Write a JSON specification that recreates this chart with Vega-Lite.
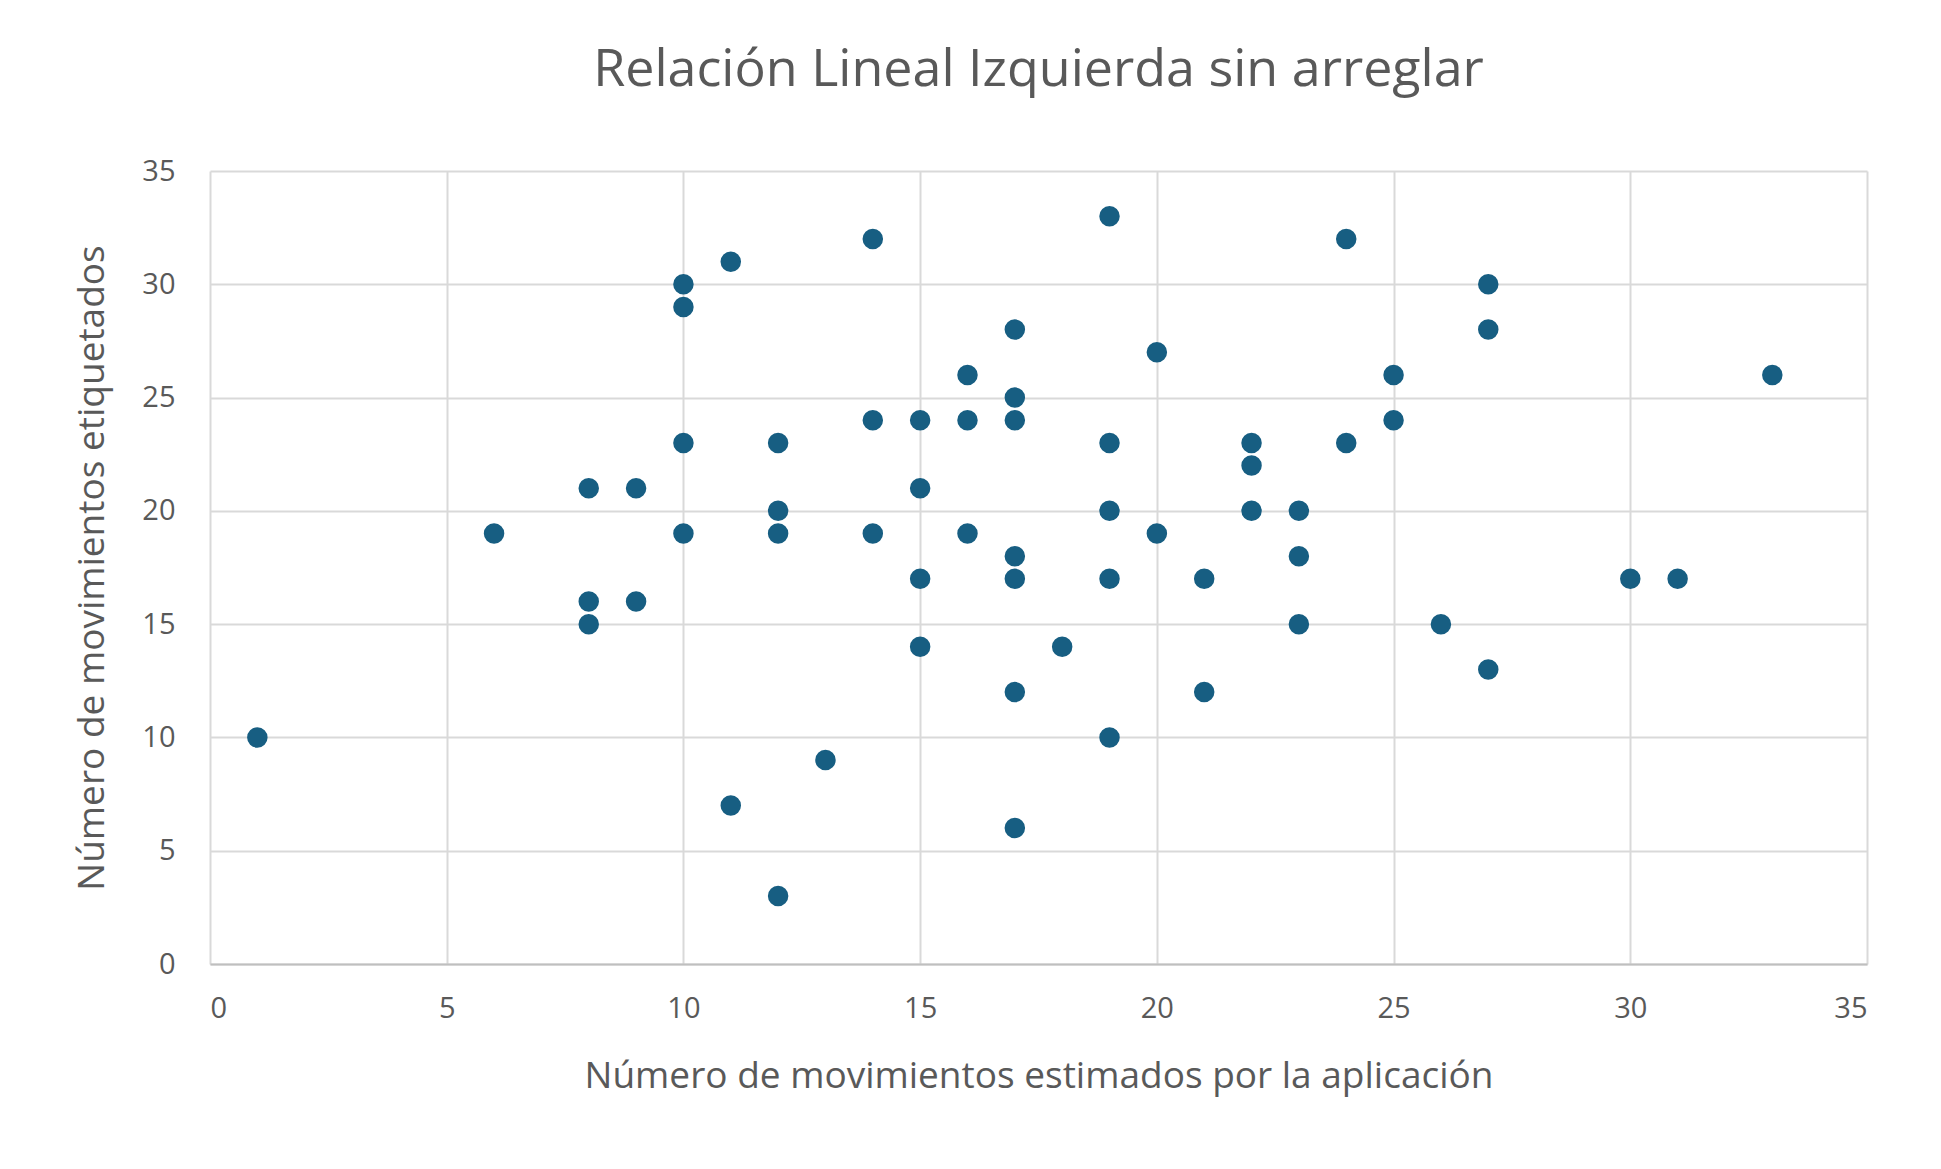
{"$schema": "https://vega.github.io/schema/vega-lite/v6.json",
  "autosize": "none",
  "padding": {"left": 210, "top": 171, "right": 74, "bottom": 205},
  "width": 1657,
  "height": 793,
  "background": "white",
  "title": {
    "text": "Relación Lineal Izquierda sin arreglar",
    "font": "Open Sans",
    "fontSize": 52,
    "fontWeight": "normal",
    "color": "#595959",
    "anchor": "middle",
    "offset": 60
  },
  "config": {
    "view": {"stroke": null},
    "axis": {
      "labelFont": "Open Sans", "labelFontSize": 29, "labelColor": "#595959",
      "titleFont": "Open Sans", "titleFontSize": 37, "titleColor": "#595959", "titleFontWeight": "normal",
      "gridColor": "#d9d9d9", "gridWidth": 2, "ticks": false
    }
  },
  "data": {"values": [
    {"x":1,"y":10},{"x":6,"y":19},{"x":8,"y":21},{"x":8,"y":16},{"x":8,"y":15},{"x":9,"y":21},{"x":9,"y":16},
    {"x":10,"y":30},{"x":10,"y":29},{"x":10,"y":23},{"x":10,"y":19},{"x":11,"y":31},{"x":11,"y":7},
    {"x":12,"y":23},{"x":12,"y":20},{"x":12,"y":19},{"x":12,"y":3},{"x":13,"y":9},{"x":14,"y":32},
    {"x":14,"y":24},{"x":14,"y":19},{"x":15,"y":24},{"x":15,"y":21},{"x":15,"y":17},{"x":15,"y":14},
    {"x":16,"y":26},{"x":16,"y":24},{"x":16,"y":19},{"x":17,"y":28},{"x":17,"y":25},{"x":17,"y":24},
    {"x":17,"y":18},{"x":17,"y":17},{"x":17,"y":12},{"x":17,"y":6},{"x":18,"y":14},{"x":19,"y":33},
    {"x":19,"y":23},{"x":19,"y":20},{"x":19,"y":17},{"x":19,"y":10},{"x":20,"y":27},{"x":20,"y":19},
    {"x":21,"y":17},{"x":21,"y":12},{"x":22,"y":23},{"x":22,"y":22},{"x":22,"y":20},{"x":23,"y":20},
    {"x":23,"y":18},{"x":23,"y":15},{"x":24,"y":32},{"x":24,"y":23},{"x":25,"y":26},{"x":25,"y":24},
    {"x":26,"y":15},{"x":27,"y":30},{"x":27,"y":28},{"x":27,"y":13},{"x":30,"y":17},{"x":31,"y":17},
    {"x":33,"y":26}
  ]},
  "mark": {"type": "circle", "size": 420, "color": "#175e82", "opacity": 1},
  "encoding": {
    "x": {"field": "x", "type": "quantitative",
      "scale": {"domain": [0, 35], "nice": false},
      "title": "Número de movimientos estimados por la aplicación",
      "axis": {"values": [0,5,10,15,20,25,30,35], "labelPadding": 30, "titlePadding": 35,
        "domain": true, "domainColor": "#bfbfbf", "domainWidth": 2}},
    "y": {"field": "y", "type": "quantitative",
      "scale": {"domain": [0, 35], "nice": false},
      "title": "Número de movimientos etiquetados",
      "axis": {"values": [0,5,10,15,20,25,30,35], "labelPadding": 35, "titlePadding": 30, "domain": false}}
  }
}
